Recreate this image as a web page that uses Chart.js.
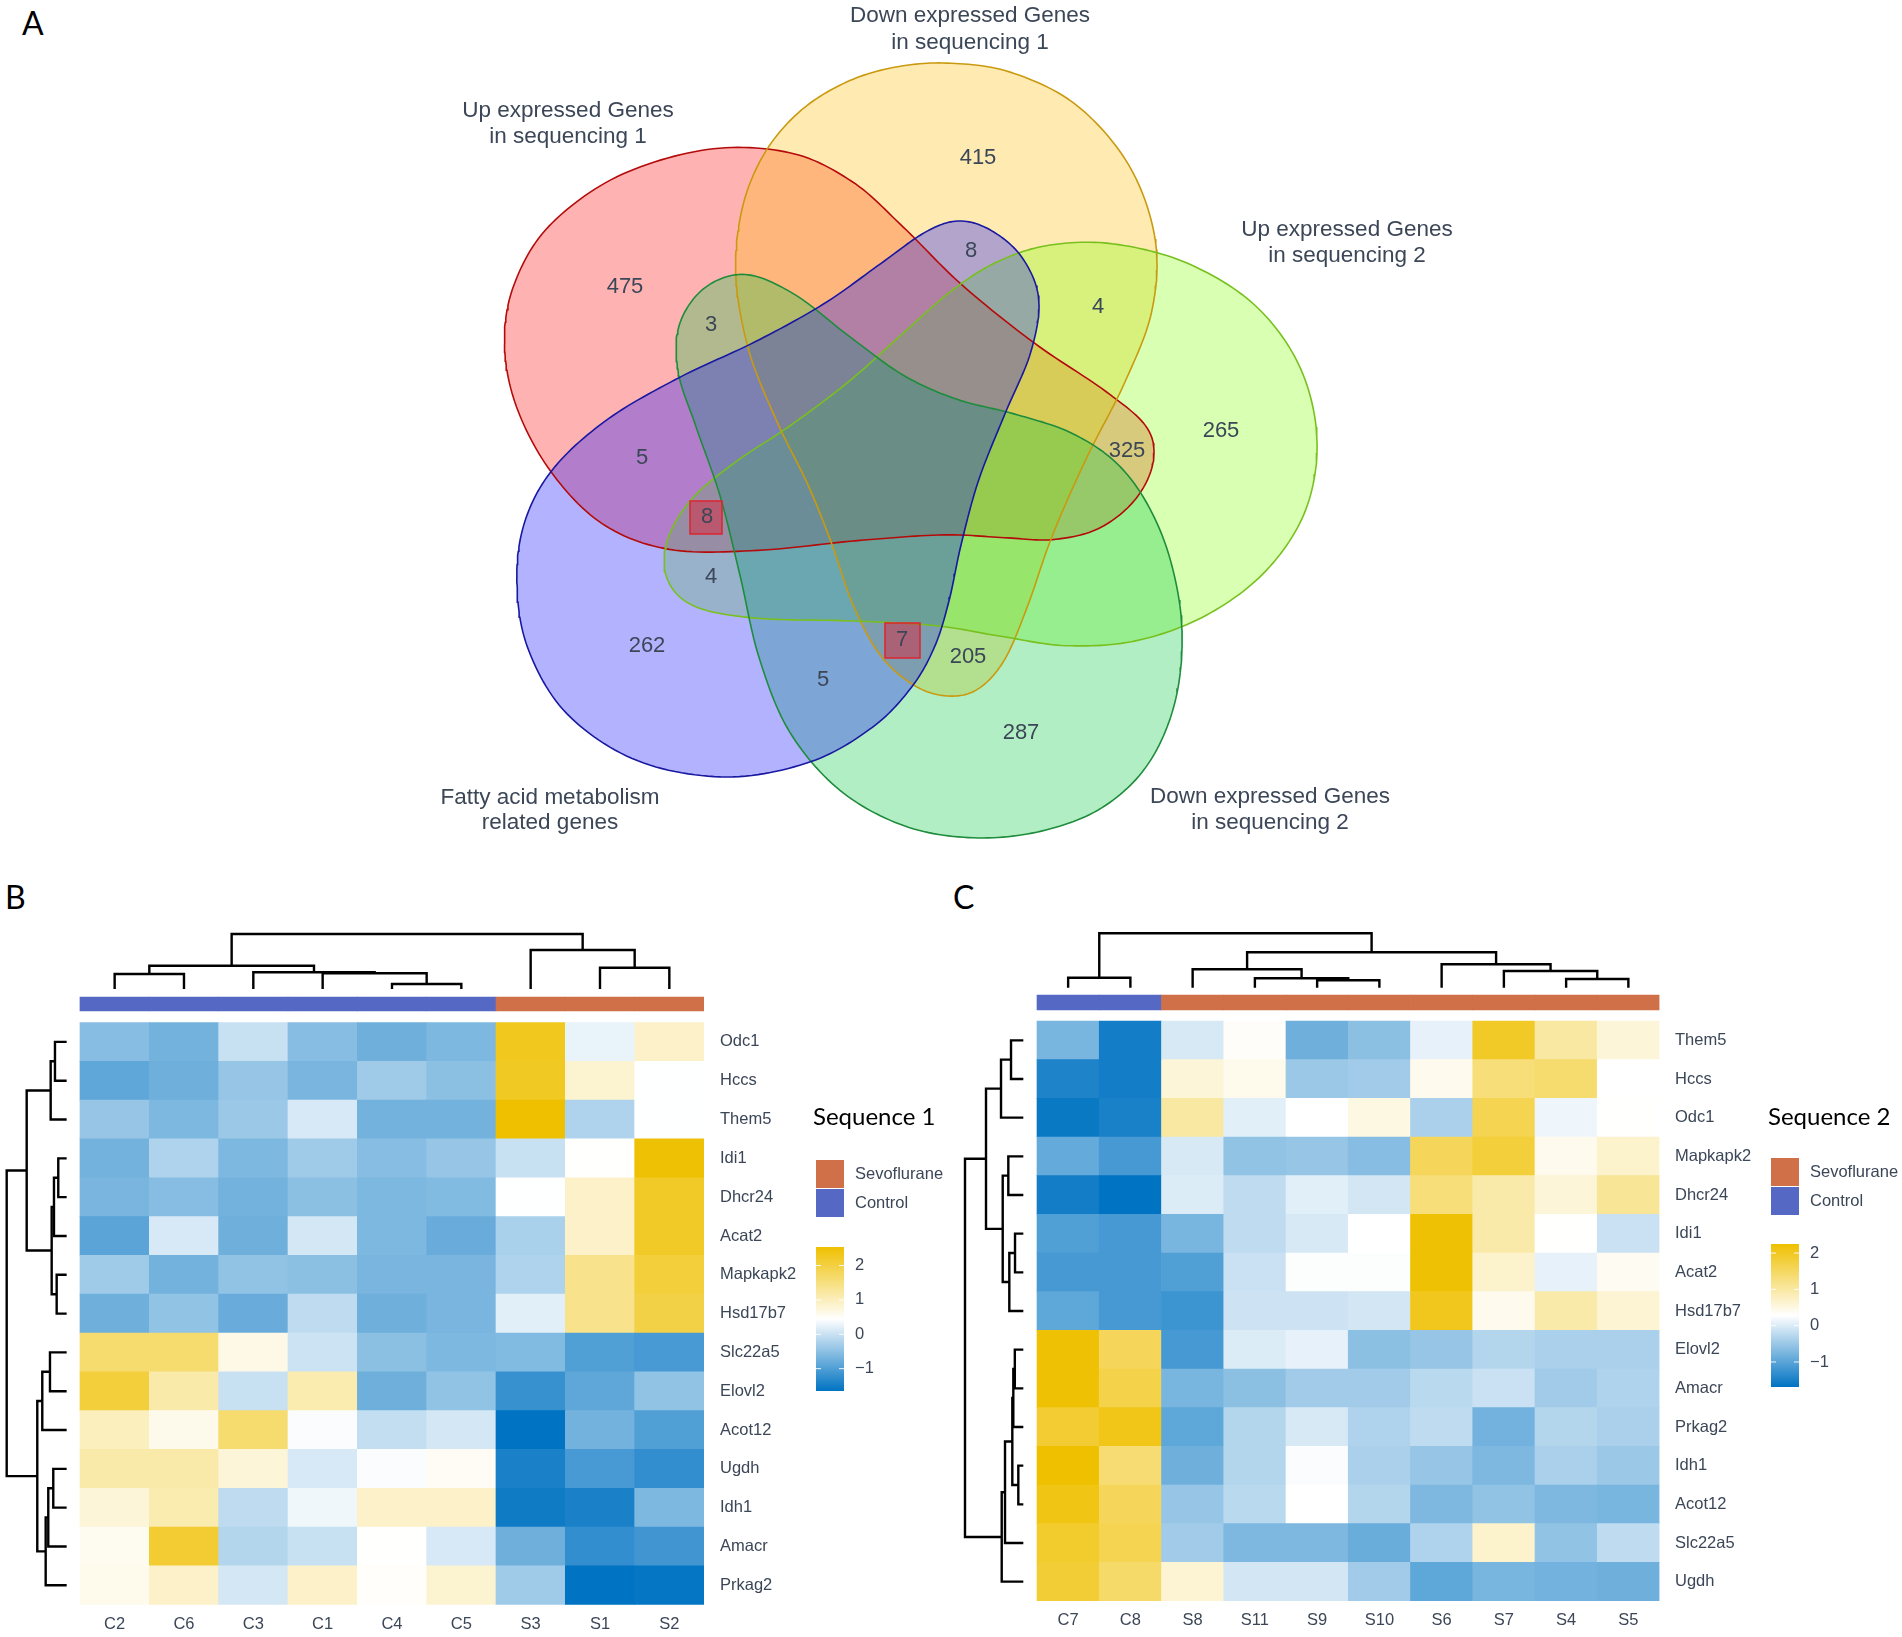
<!DOCTYPE html>
<html>
<head>
<meta charset="utf-8">
<script src="https://cdn.jsdelivr.net/npm/chart.js@4.4.1/dist/chart.umd.min.js"></script>
<style>
body { margin: 0; background: #fff; width: 1902px; height: 1637px; position: relative; overflow: hidden; }
canvas { position: absolute; }
.panel { position: absolute; font-family: Lato, sans-serif; font-size: 32px; color: #000; line-height: 1; }
</style>
</head>
<body>
<div class="panel" style="left:22px;top:7px">A</div>
<div class="panel" style="left:5px;top:881px">B</div>
<div class="panel" style="left:953px;top:881px">C</div>
<canvas id="venn" width="1902" height="860" style="left:0;top:0"></canvas>
<canvas id="hm1" width="951" height="777" style="left:0;top:860px"></canvas>
<canvas id="hm2" width="951" height="777" style="left:951px;top:860px"></canvas>
<script>
// ---- data: venn ----
var setNames = [
    ['Up expressed Genes', 'in sequencing 1'],
    ['Down expressed Genes', 'in sequencing 1'],
    ['Up expressed Genes', 'in sequencing 2'],
    ['Down expressed Genes', 'in sequencing 2'],
    ['Fatty acid metabolism', 'related genes']
];
var regionCounts = [475, 415, 265, 287, 262, 3, 5, 8, 4, 5, 7, 8, 4, 325, 205];

// ---- data: heatmap sequence 1 ----
var seq1Samples = ['C2', 'C6', 'C3', 'C1', 'C4', 'C5', 'S3', 'S1', 'S2'];
var seq1Groups = ['Control', 'Control', 'Control', 'Control', 'Control', 'Control', 'Sevoflurane', 'Sevoflurane', 'Sevoflurane'];
var seq1Genes = ['Odc1', 'Hccs', 'Them5', 'Idi1', 'Dhcr24', 'Acat2', 'Mapkapk2', 'Hsd17b7', 'Slc22a5', 'Elovl2', 'Acot12', 'Ugdh', 'Idh1', 'Amacr', 'Prkag2'];
var seq1Values = [
    [-0.54, -0.70, -0.01, -0.54, -0.75, -0.62, 2.29, 0.26, 0.90],
    [-0.87, -0.75, -0.42, -0.66, -0.34, -0.50, 2.25, 0.82, 0.44],
    [-0.42, -0.62, -0.38, 0.12, -0.70, -0.70, 2.54, -0.21, 0.44],
    [-0.70, -0.21, -0.62, -0.34, -0.54, -0.42, -0.01, 0.46, 2.50],
    [-0.66, -0.54, -0.70, -0.50, -0.62, -0.58, 0.44, 0.90, 2.21],
    [-0.91, 0.12, -0.75, 0.08, -0.62, -0.79, -0.25, 0.90, 2.21],
    [-0.34, -0.70, -0.46, -0.50, -0.66, -0.66, -0.21, 1.39, 2.05],
    [-0.75, -0.46, -0.79, -0.09, -0.75, -0.66, 0.20, 1.39, 1.96],
    [1.64, 1.64, 0.65, 0.03, -0.50, -0.62, -0.58, -0.99, -1.07],
    [2.05, 1.14, -0.01, 1.10, -0.75, -0.46, -1.20, -0.87, -0.46],
    [0.98, 0.61, 1.64, 0.40, -0.05, 0.08, -1.65, -0.70, -0.99],
    [1.14, 1.14, 0.77, 0.12, 0.40, 0.53, -1.44, -1.07, -1.24],
    [0.77, 1.10, -0.09, 0.32, 0.90, 0.90, -1.53, -1.44, -0.62],
    [0.57, 2.13, -0.17, -0.01, 0.46, 0.12, -0.75, -1.24, -1.12],
    [0.59, 0.90, 0.08, 0.90, 0.49, 0.82, -0.34, -1.65, -1.61]
];
var seq1Range = [-1.65, 2.54];
// hclust style merges: negative = leaf (1-based), positive = earlier merge; third = height
var seq1ColTree = [[-5, -6, 5], [-1, -2, 15], [-4, 1, 15.7], [-3, 3, 16.7], [-8, -9, 21.3], [2, 4, 23.3], [-7, 5, 39], [6, 7, 55]];
var seq1RowTree = [[-4, -5, 8.4], [-7, -8, 10], [-1, -2, 11.7], [1, -6, 12.7], [-12, -13, 13.4], [4, 2, 15], [3, -3, 16],
    [-9, -10, 16.7], [5, -14, 18.4], [9, -15, 21], [8, -11, 24.4], [11, 10, 29.4], [7, 6, 40], [13, 12, 60]];

// ---- data: heatmap sequence 2 ----
var seq2Samples = ['C7', 'C8', 'S8', 'S11', 'S9', 'S10', 'S6', 'S7', 'S4', 'S5'];
var seq2Groups = ['Control', 'Control', 'Sevoflurane', 'Sevoflurane', 'Sevoflurane', 'Sevoflurane', 'Sevoflurane', 'Sevoflurane', 'Sevoflurane', 'Sevoflurane'];
var seq2Genes = ['Them5', 'Hccs', 'Odc1', 'Mapkapk2', 'Dhcr24', 'Idi1', 'Acat2', 'Hsd17b7', 'Elovl2', 'Amacr', 'Prkag2', 'Idh1', 'Acot12', 'Slc22a5', 'Ugdh'];
var seq2Values = [
    [-0.76, -1.54, -0.03, 0.33, -0.84, -0.61, 0.09, 1.94, 1.01, 0.59],
    [-1.46, -1.54, 0.59, 0.43, -0.49, -0.45, 0.41, 1.32, 1.40, 0.28],
    [-1.61, -1.50, 1.01, 0.05, 0.28, 0.51, -0.38, 1.63, 0.16, 0.29],
    [-0.92, -1.15, -0.03, -0.57, -0.53, -0.65, 1.55, 1.79, 0.41, 0.67],
    [-1.54, -1.69, 0.01, -0.22, 0.05, -0.07, 1.32, 0.94, 0.59, 1.09],
    [-1.07, -1.15, -0.76, -0.22, -0.03, 0.28, 2.21, 0.94, 0.29, -0.14],
    [-1.15, -1.15, -1.07, -0.14, 0.26, 0.26, 2.21, 0.67, 0.09, 0.38],
    [-0.96, -1.15, -1.23, -0.11, -0.11, -0.07, 2.02, 0.41, 0.94, 0.63],
    [2.21, 1.55, -1.15, 0.01, 0.09, -0.61, -0.53, -0.30, -0.38, -0.38],
    [2.21, 1.67, -0.76, -0.61, -0.45, -0.45, -0.26, -0.14, -0.45, -0.34],
    [1.86, 2.06, -0.96, -0.30, -0.03, -0.34, -0.22, -0.80, -0.30, -0.38],
    [2.25, 1.36, -0.84, -0.30, 0.24, -0.38, -0.53, -0.72, -0.38, -0.49],
    [2.10, 1.55, -0.53, -0.26, 0.28, -0.30, -0.72, -0.57, -0.72, -0.76],
    [1.90, 1.63, -0.45, -0.72, -0.72, -0.88, -0.34, 0.67, -0.57, -0.22],
    [1.83, 1.44, 0.63, -0.07, -0.07, -0.45, -0.96, -0.76, -0.80, -0.84]
];
var seq2Range = [-1.69, 2.25];
var seq2ColTree = [[-5, -6, 7.4], [-9, -10, 8.7], [-4, 1, 9.4], [-1, -2, 10], [-8, 2, 16.7], [-3, 3, 18.4], [-7, 5, 23.4], [6, 7, 35.4], [4, 8, 54.4]];
var seq2RowTree = [[-12, -13, 5], [-6, -7, 8.3], [-9, -10, 8.5], [3, -11, 10], [4, 1, 11], [-1, -2, 12.3], [2, -8, 14],
    [-4, -5, 15], [5, -14, 18.3], [8, 7, 20.6], [9, -15, 21.6], [6, -3, 22.3], [12, 10, 37.3], [13, 11, 58.3]];

var colorBarTicks = [2, 1, 0, -1];

// ---- layout / style ----
var textColor = '#3b4657';
var groupColors = { Sevoflurane: '#cf7048', Control: '#5468c4' };
var vennShapes = [
    { fill: 'rgba(0,0,255,0.3)', stroke: '#1818a0', pts: [[519,576],[530,515],[552,472],[607,417],[685,373],[752,346],[825,307],[879,263],[928,230],[955,224],[985,229],[1022,256],[1042,302],[1032,350],[1002,417],[977,477],[960,548],[950,600],[934,647],[910,686],[873,724],[813,762],[728,778],[637,762],[564,713],[528,647]] },
    { fill: 'rgba(0,200,60,0.3)', stroke: '#1e8c3c', pts: [[752,272],[788,291],[849,338],[910,380],[951,400],[1012,411],[1072,433],[1115,461],[1145,505],[1169,559],[1183,631],[1175,702],[1145,768],[1103,806],[1042,831],[969,834],[910,828],[837,790],[788,730],[758,658],[743,576],[722,494],[697,428],[679,373],[676,329],[704,288]] },
    { fill: 'rgba(125,255,0,0.3)', stroke: '#78c01e', pts: [[1103,243],[1194,263],[1254,307],[1297,362],[1317,439],[1306,510],[1266,570],[1206,614],[1133,642],[1072,646],[987,636],[951,623],[849,619],[746,619],[697,609],[670,576],[667,543],[691,494],[740,461],[788,428],[849,384],[910,329],[951,288],[999,263],[1054,247]] },
    { fill: 'rgba(255,190,0,0.3)', stroke: '#c99a10', pts: [[940,65],[1012,74],[1072,99],[1133,165],[1154,247],[1151,307],[1127,384],[1084,455],[1048,538],[1030,603],[1006,664],[975,688],[951,692],[916,686],[879,658],[849,603],[837,543],[807,483],[782,428],[746,351],[734,274],[746,208],[764,154],[800,110],[849,82],[898,69]] },
    { fill: 'rgba(255,0,0,0.3)', stroke: '#b40a0a', pts: [[505,346],[520,285],[546,230],[607,176],[719,147],[790,155],[849,181],[910,230],[951,280],[1030,346],[1115,395],[1145,425],[1151,458],[1133,505],[1100,528],[1048,541],[1000,538],[951,532],[860,537],[752,554],[667,546],[607,529],[552,472],[515,400]] }
];
var setLabelPos = [[568, 111, 137], [970, 16, 43], [1347, 230, 256], [1270, 797, 823], [550, 798, 823]];
var countPos = [[625,287],[978,158],[1221,431],[1021,733],[647,646],[711,325],[642,458],[707,517],[711,577],[823,680],[902,640],[971,251],[1098,307],[1127,451],[968,657]];
var countBoxes = [[690, 501, 32, 33], [885, 623, 35, 35]];

// Taubin smoothing of the traced outline (removes jitter without shrinking)
function smoothOutline(pts, iters) {
    var p = pts.map(function (q) { return q.slice(); }), n = p.length;
    function pass(f) {
        p = p.map(function (q, i) {
            var a = p[(i - 1 + n) % n], b = p[(i + 1) % n];
            return [q[0] + f * ((a[0] + b[0]) / 2 - q[0]), q[1] + f * ((a[1] + b[1]) / 2 - q[1])];
        });
    }
    for (var k = 0; k < iters; k++) { pass(0.5); pass(-0.53); }
    return p;
}

function closedSpline(pts, steps) {
    var out = [], n = pts.length;
    for (var i = 0; i < n; i++) {
        var p0 = pts[(i - 1 + n) % n], p1 = pts[i], p2 = pts[(i + 1) % n], p3 = pts[(i + 2) % n];
        for (var s = 0; s < steps; s++) {
            var t = s / steps, t2 = t * t, t3 = t2 * t;
            var c = [0, 1].map(function (k) {
                return 0.5 * (2 * p1[k] + (p2[k] - p0[k]) * t + (2 * p0[k] - 5 * p1[k] + 4 * p2[k] - p3[k]) * t2 + (3 * p1[k] - p0[k] - 3 * p2[k] + p3[k]) * t3);
            });
            out.push({ x: c[0], y: c[1] });
        }
    }
    out.push(out[0]);
    return out;
}

var vennText = {
    id: 'vennText',
    afterDatasetsDraw: function (chart) {
        var ctx = chart.ctx, sx = chart.scales.x, sy = chart.scales.y;
        ctx.save();
        countBoxes.forEach(function (b) {
            var x0 = sx.getPixelForValue(b[0]), y0 = sy.getPixelForValue(b[1]);
            var x1 = sx.getPixelForValue(b[0] + b[2]), y1 = sy.getPixelForValue(b[1] + b[3]);
            ctx.fillStyle = 'rgba(225,25,45,0.45)';
            ctx.fillRect(x0, y0, x1 - x0, y1 - y0);
            ctx.strokeStyle = '#de2530';
            ctx.lineWidth = 1.5;
            ctx.strokeRect(x0, y0, x1 - x0, y1 - y0);
        });
        ctx.fillStyle = textColor;
        ctx.textAlign = 'center';
        ctx.textBaseline = 'middle';
        ctx.font = '22px "Liberation Sans", Arial, sans-serif';
        regionCounts.forEach(function (v, i) {
            ctx.fillText(String(v), sx.getPixelForValue(countPos[i][0]), sy.getPixelForValue(countPos[i][1]));
        });
        ctx.font = '22.5px "Liberation Sans", Arial, sans-serif';
        setNames.forEach(function (lines, i) {
            var p = setLabelPos[i];
            ctx.fillText(lines[0], sx.getPixelForValue(p[0]), sy.getPixelForValue(p[1]));
            ctx.fillText(lines[1], sx.getPixelForValue(p[0]), sy.getPixelForValue(p[2]));
        });
        ctx.restore();
    }
};

var vennOutlines = vennShapes.map(function (s) { return closedSpline(smoothOutline(s.pts, 3), 14); });
var vennData = [];
vennShapes.forEach(function (s, i) {
    vennData.push({ data: vennOutlines[i], showLine: true, fill: false, borderColor: s.stroke, borderWidth: 1.6, pointRadius: 0, tension: 0, clip: false });
});
vennShapes.forEach(function (s, i) {
    vennData.push({ data: vennOutlines[i], showLine: true, fill: 'shape', backgroundColor: s.fill, borderWidth: 0, borderColor: 'rgba(0,0,0,0)', pointRadius: 0, tension: 0, clip: false });
});

new Chart(document.getElementById('venn'), {
    type: 'scatter',
    data: { datasets: vennData },
    options: {
        responsive: false, animation: false, events: [],
        layout: { padding: 0 },
        plugins: { legend: { display: false }, tooltip: { enabled: false } },
        scales: {
            x: { type: 'linear', min: 0, max: 1902, display: false },
            y: { type: 'linear', min: 0, max: 860, reverse: true, display: false }
        }
    },
    plugins: [vennText]
});

// ---- heatmaps ----
function heatColor(v, range) {
    var lo = [0, 115, 194], mid = [255, 255, 255], hi = [239, 192, 0];
    var t = Math.max(0, Math.min(1, (v - range[0]) / (range[1] - range[0])));
    var a = t < 0.5 ? lo : mid, b = t < 0.5 ? mid : hi, u = t < 0.5 ? t / 0.5 : (t - 0.5) / 0.5;
    var c = [0, 1, 2].map(function (k) { return Math.round(a[k] + (b[k] - a[k]) * u); });
    return 'rgb(' + c.join(',') + ')';
}

function dendroSegments(merges) {
    var pos = [], hgt = [], segs = [];
    function node(k) { return k < 0 ? { p: -k - 0.5, h: 0 } : { p: pos[k - 1], h: hgt[k - 1] }; }
    merges.forEach(function (m) {
        var a = node(m[0]), b = node(m[1]);
        segs.push([[a.p, a.h], [a.p, m[2]], [b.p, m[2]], [b.p, b.h]]);
        pos.push((a.p + b.p) / 2);
        hgt.push(m[2]);
    });
    return segs;
}

function lineSet(points) {
    return { type: 'line', data: points, borderColor: '#000', borderWidth: 2.4, pointRadius: 0, tension: 0, fill: false, clip: false, order: 0 };
}

function buildHeatmap(id, p) {
    var L = p.layout;
    var cells = [], cellColors = [];
    p.values.forEach(function (row, i) {
        row.forEach(function (v, j) {
            cells.push({ x: j + 0.5, y: [i, i + 1] });
            cellColors.push(heatColor(v, p.range));
        });
    });
    var datasets = [];
    var colRoot = p.colTree[p.colTree.length - 1][2];
    dendroSegments(p.colTree).forEach(function (s) {
        datasets.push(lineSet(s.map(function (q) { return { x: q[0], y: L.colLeaf - q[1] * L.colSpan / colRoot }; })));
    });
    var rowRoot = p.rowTree[p.rowTree.length - 1][2];
    dendroSegments(p.rowTree).forEach(function (s) {
        datasets.push(lineSet(s.map(function (q) { return { x: L.rowLeaf - q[1] * L.rowSpan / rowRoot, y: q[0] }; })));
    });
    datasets.push({
        type: 'bar', data: cells, backgroundColor: cellColors, borderWidth: 0,
        grouped: false, barPercentage: 1, categoryPercentage: 1, order: 1
    });
    datasets.push({
        type: 'bar',
        data: p.samples.map(function (s, j) { return { x: j + 0.5, y: L.ann }; }),
        backgroundColor: p.groups.map(function (g) { return groupColors[g]; }),
        borderWidth: 0, grouped: false, barPercentage: 1, categoryPercentage: 1, order: 1
    });

    var legend = {
        id: 'hmLegend',
        afterDraw: function (chart) {
            var ctx = chart.ctx, g = L.legend;
            ctx.save();
            ctx.fillStyle = '#000';
            ctx.textAlign = 'left';
            ctx.textBaseline = 'middle';
            ctx.font = '24px Lato, sans-serif';
            ctx.fillText(p.title, g.x - 3, g.titleY);
            ['Sevoflurane', 'Control'].forEach(function (name, k) {
                ctx.fillStyle = groupColors[name];
                ctx.fillRect(g.x, g.swY + k * g.swH, g.swW, g.swH - 1);
                ctx.fillStyle = textColor;
                ctx.font = '16.5px "Liberation Sans", Arial, sans-serif';
                ctx.fillText(name, g.x + g.swW + 11, g.swY + k * g.swH + g.swH / 2);
            });
            var grad = ctx.createLinearGradient(0, g.barTop, 0, g.barBottom);
            grad.addColorStop(0, heatColor(p.range[1], p.range));
            grad.addColorStop(0.5, '#ffffff');
            grad.addColorStop(1, heatColor(p.range[0], p.range));
            ctx.fillStyle = grad;
            ctx.fillRect(g.x, g.barTop, g.swW, g.barBottom - g.barTop);
            colorBarTicks.forEach(function (v) {
                var y = g.barTop + (p.range[1] - v) / (p.range[1] - p.range[0]) * (g.barBottom - g.barTop);
                ctx.strokeStyle = 'rgba(255,255,255,0.9)';
                ctx.lineWidth = 1;
                ctx.beginPath();
                ctx.moveTo(g.x, y); ctx.lineTo(g.x + 5, y);
                ctx.moveTo(g.x + g.swW - 5, y); ctx.lineTo(g.x + g.swW, y);
                ctx.stroke();
                ctx.fillStyle = textColor;
                ctx.fillText(v < 0 ? '\u2212' + Math.abs(v) : String(v), g.x + g.swW + 11, y);
            });
            ctx.restore();
        }
    };

    var tickFont = { family: '"Liberation Sans", Arial, sans-serif', size: 16.5 };
    return new Chart(document.getElementById(id), {
        type: 'bar',
        data: { datasets: datasets },
        options: {
            responsive: false, animation: false, events: [],
            layout: { padding: { left: L.padLeft, top: L.padTop, right: 0, bottom: 0 } },
            plugins: { legend: { display: false }, tooltip: { enabled: false } },
            scales: {
                x: {
                    type: 'linear', min: L.xMin, max: p.samples.length, offset: false, position: 'bottom',
                    afterBuildTicks: function (s) { s.ticks = p.samples.map(function (c, j) { return { value: j + 0.5 }; }); },
                    afterFit: function (s) { s.height = L.axisBottom; },
                    ticks: { autoSkip: false, maxRotation: 0, padding: L.xPad, color: textColor, font: tickFont,
                        callback: function (v) { return p.samples[Math.floor(v)]; } },
                    grid: { display: false, drawTicks: false }, border: { display: false }
                },
                y: {
                    type: 'linear', min: L.yMin, max: p.genes.length, reverse: true, offset: false, position: 'right',
                    afterBuildTicks: function (s) { s.ticks = p.genes.map(function (r, i) { return { value: i + 0.5 }; }); },
                    afterFit: function (s) { s.width = L.axisRight; },
                    ticks: { autoSkip: false, padding: L.yPad, color: textColor, font: tickFont,
                        callback: function (v) { return p.genes[Math.floor(v)]; } },
                    grid: { display: false, drawTicks: false }, border: { display: false }
                }
            }
        },
        plugins: [legend]
    });
}

buildHeatmap('hm1', {
    title: 'Sequence 1', samples: seq1Samples, groups: seq1Groups, genes: seq1Genes, values: seq1Values,
    range: seq1Range, colTree: seq1ColTree, rowTree: seq1RowTree,
    layout: { padLeft: 6, padTop: 73, axisRight: 247, axisBottom: 32.3, xMin: -1.067, yMin: -2.306,
        colLeaf: -0.863, colSpan: 1.417, rowLeaf: -0.192, rowSpan: 0.865, ann: [-0.657, -0.296], xPad: 10, yPad: 16,
        legend: { x: 816, titleY: 257, swY: 300, swW: 28, swH: 29, barTop: 387, barBottom: 531 } }
});
buildHeatmap('hm2', {
    title: 'Sequence 2', samples: seq2Samples, groups: seq2Groups, genes: seq2Genes, values: seq2Values,
    range: seq2Range, colTree: seq2ColTree, rowTree: seq2RowTree,
    layout: { padLeft: 13, padTop: 73, axisRight: 242.5, axisBottom: 36, xMin: -1.173, yMin: -2.276,
        colLeaf: -0.861, colSpan: 1.407, rowLeaf: -0.22, rowSpan: 0.937, ann: [-0.672, -0.284], xPad: 10, yPad: 15.5,
        legend: { x: 820, titleY: 257, swY: 298, swW: 28, swH: 29, barTop: 384, barBottom: 527 } }
});
</script>
</body>
</html>
